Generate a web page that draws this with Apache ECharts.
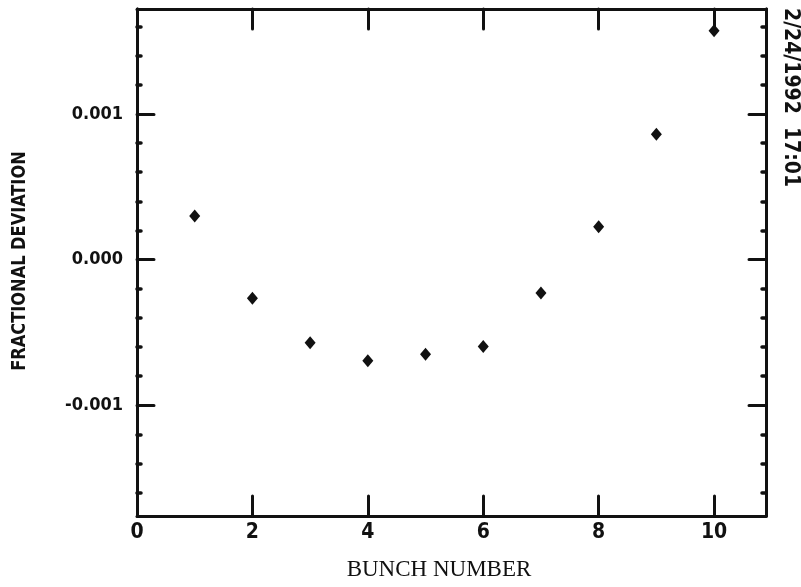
<!DOCTYPE html>
<html>
<head>
<meta charset="utf-8">
<title>Fractional deviation by bunch</title>
<script src="https://cdn.jsdelivr.net/npm/echarts@6/dist/echarts.min.js"></script>
<style>
  html, body { margin: 0; padding: 0; background: #ffffff; }
  #chart { width: 801px; height: 587px; }
</style>
</head>
<body>
<div id="chart"></div>
<script>
// Bunch numbers and their measured fractional deviation
var bunches = [1, 2, 3, 4, 5, 6, 7, 8, 9, 10];
var deviations = [0.00030, -0.000265, -0.00057, -0.000695, -0.00065, -0.000597, -0.00023, 0.000226, 0.00086, 0.00157];

// Tick positions
var xMajorTicks = [2, 4, 6, 8, 10];
var xTickLabels = [0, 2, 4, 6, 8, 10];
var yMajorTicks = [-0.001, 0, 0.001];
var yMinorTicks = [-0.0016, -0.0014, -0.0012, -0.0008, -0.0006, -0.0004, -0.0002,
                   0.0002, 0.0004, 0.0006, 0.0008, 0.0012, 0.0014, 0.0016];

var xRange = [0, 10.9];
var yRange = [-0.00176, 0.00172];

var ink = '#111111';
var boldNarrow = '"DejaVu Sans Condensed", "Liberation Sans Narrow", "DejaVu Sans", sans-serif';

var points = bunches.map(function (b, i) { return [b, deviations[i]]; });

function yAxisDef(position, ticks, len, showLabels) {
  return {
    type: 'value',
    position: position,
    min: yRange[0],
    max: yRange[1],
    splitLine: { show: false },
    axisLine: { show: true, onZero: false, lineStyle: { color: ink, width: 3 } },
    axisTick: {
      show: true, inside: true, length: len,
      customValues: ticks,
      lineStyle: { color: ink, width: len > 8 ? 3 : 3.5, cap: 'round' }
    },
    axisLabel: showLabels ? {
      show: true,
      customValues: yMajorTicks,
      margin: 14,
      color: ink,
      fontFamily: boldNarrow,
      fontWeight: 'bold',
      fontSize: 18,
      formatter: function (v) { return v.toFixed(3); }
    } : { show: false }
  };
}

function xAxisDef(position, showLabels) {
  return {
    type: 'value',
    position: position,
    min: xRange[0],
    max: xRange[1],
    splitLine: { show: false },
    axisLine: { show: true, onZero: false, lineStyle: { color: ink, width: 3 } },
    axisTick: {
      show: true, inside: true, length: 20,
      customValues: xMajorTicks,
      lineStyle: { color: ink, width: 3, cap: 'round' }
    },
    axisLabel: showLabels ? {
      show: true,
      customValues: xTickLabels,
      margin: 6,
      color: ink,
      fontFamily: boldNarrow,
      fontWeight: 'bold',
      fontSize: 21
    } : { show: false }
  };
}

var chart = echarts.init(document.getElementById('chart'), null, { renderer: 'canvas' });

chart.setOption({
  backgroundColor: '#ffffff',
  animation: false,
  grid: { left: 137, right: 35, top: 9, bottom: 71, containLabel: false },
  xAxis: [
    xAxisDef('bottom', true),
    xAxisDef('top', false)
  ],
  yAxis: [
    yAxisDef('left', yMajorTicks, 17, true),
    yAxisDef('left', yMinorTicks, 4, false),
    yAxisDef('right', yMajorTicks, 17, false),
    yAxisDef('right', yMinorTicks, 4, false)
  ],
  series: [{
    type: 'scatter',
    xAxisIndex: 0,
    yAxisIndex: 0,
    data: points,
    symbol: 'diamond',
    symbolSize: [11, 13],
    itemStyle: { color: ink, opacity: 1 },
    z: 5
  }],
  graphic: [
    {
      type: 'text',
      x: 20, y: 261,
      rotation: Math.PI / 2,
      scaleX: 0.9,
      style: {
        text: 'FRACTIONAL DEVIATION',
        fill: ink,
        font: 'bold 20px ' + boldNarrow,
        textAlign: 'center',
        textVerticalAlign: 'middle'
      }
    },
    {
      type: 'text',
      x: 439, y: 570,
      style: {
        text: 'BUNCH NUMBER',
        fill: ink,
        font: '23px "Liberation Serif", "DejaVu Serif", serif',
        textAlign: 'center',
        textVerticalAlign: 'middle'
      }
    },
    {
      type: 'text',
      x: 790, y: 8,
      rotation: -Math.PI / 2,
      style: {
        text: '2/24/1992  17:01',
        fill: ink,
        font: 'bold 21px ' + boldNarrow,
        textAlign: 'left',
        textVerticalAlign: 'middle'
      }
    }
  ]
});
</script>
</body>
</html>
